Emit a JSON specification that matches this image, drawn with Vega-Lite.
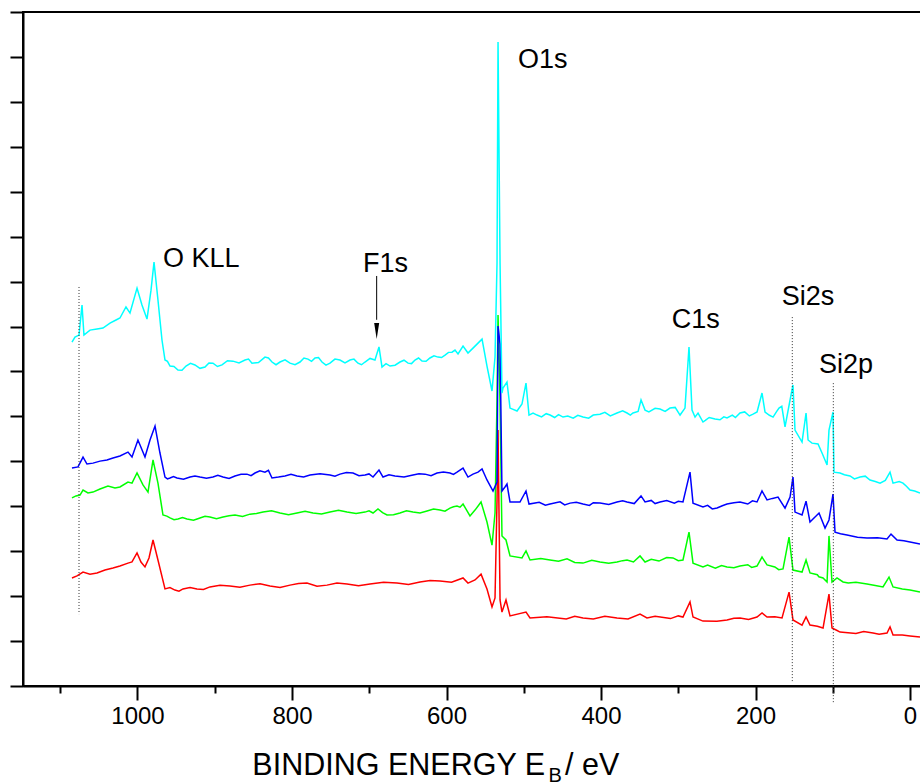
{
"$schema": "https://vega.github.io/schema/vega-lite/v6.json",
"width": 898, "height": 674,
"autosize": {"type": "none"},
"padding": {"left": 23, "top": 12, "right": 0, "bottom": 98},
"background": "white",
"config": {"view": {"stroke": "black", "strokeWidth": 2}, "axis": {"grid": false, "domainColor": "black", "tickColor": "black", "domainWidth": 2, "tickWidth": 2, "labelColor": "black", "labelFont": "Liberation Sans"}},
"datasets": {
"spectra": [
{"series":"D","energy":1084.8,"intensity":4.81},{"series":"D","energy":1078.3,"intensity":4.90},{"series":"D","energy":1070.5,"intensity":5.07},{"series":"D","energy":1061.5,"intensity":4.98},{"series":"D","energy":1052.4,"intensity":5.03},{"series":"D","energy":1042.1,"intensity":5.16},{"series":"D","energy":1031.7,"intensity":5.25},{"series":"D","energy":1022.7,"intensity":5.34},{"series":"D","energy":1012.3,"intensity":5.47},{"series":"D","energy":1007.1,"intensity":5.52},{"series":"D","energy":1000.6,"intensity":5.92},{"series":"D","energy":995.5,"intensity":5.52},{"series":"D","energy":990.3,"intensity":5.30},{"series":"D","energy":985.1,"intensity":5.70},{"series":"D","energy":979.9,"intensity":6.50},{"series":"D","energy":973.5,"intensity":5.61},{"series":"D","energy":964.4,"intensity":4.32},{"series":"D","energy":951.5,"intensity":4.27},{"series":"D","energy":941.1,"intensity":4.32},{"series":"D","energy":923.0,"intensity":4.32},{"series":"D","energy":906.2,"intensity":4.41},{"series":"D","energy":880.3,"intensity":4.45},{"series":"D","energy":854.4,"intensity":4.49},{"series":"D","energy":828.5,"intensity":4.45},{"series":"D","energy":802.6,"intensity":4.49},{"series":"D","energy":780.6,"intensity":4.58},{"series":"D","energy":754.7,"intensity":4.49},{"series":"D","energy":728.8,"intensity":4.54},{"series":"D","energy":699.0,"intensity":4.54},{"series":"D","energy":664.1,"intensity":4.58},{"series":"D","energy":634.3,"intensity":4.63},{"series":"D","energy":608.4,"intensity":4.67},{"series":"D","energy":578.6,"intensity":4.81},{"series":"D","energy":572.2,"intensity":4.58},{"series":"D","energy":563.1,"intensity":4.72},{"series":"D","energy":555.3,"intensity":4.98},{"series":"D","energy":547.6,"intensity":4.32},{"series":"D","energy":541.1,"intensity":3.52},{"series":"D","energy":537.2,"intensity":3.92},{"series":"D","energy":534.6,"intensity":8.28},{"series":"D","energy":533.3,"intensity":11.39},{"series":"D","energy":530.7,"intensity":3.83},{"series":"D","energy":528.2,"intensity":3.29},{"series":"D","energy":523.0,"intensity":3.83},{"series":"D","energy":517.8,"intensity":3.12},{"series":"D","energy":497.1,"intensity":3.29},{"series":"D","energy":491.9,"intensity":3.03},{"series":"D","energy":423.3,"intensity":3.03},{"series":"D","energy":379.3,"intensity":3.03},{"series":"D","energy":349.5,"intensity":3.20},{"series":"D","energy":340.5,"intensity":3.03},{"series":"D","energy":293.9,"intensity":3.07},{"series":"D","energy":284.8,"intensity":3.74},{"series":"D","energy":280.9,"intensity":3.07},{"series":"D","energy":268.0,"intensity":2.89},{"series":"D","energy":236.9,"intensity":2.94},{"series":"D","energy":220.1,"intensity":3.03},{"series":"D","energy":198.1,"intensity":3.07},{"series":"D","energy":191.6,"intensity":3.25},{"series":"D","energy":185.1,"intensity":3.07},{"series":"D","energy":165.7,"intensity":3.03},{"series":"D","energy":156.6,"intensity":4.18},{"series":"D","energy":151.5,"intensity":2.94},{"series":"D","energy":139.8,"intensity":2.71},{"series":"D","energy":134.6,"intensity":3.07},{"series":"D","energy":129.5,"intensity":2.71},{"series":"D","energy":112.6,"intensity":2.58},{"series":"D","energy":104.9,"intensity":4.09},{"series":"D","energy":101.0,"intensity":2.58},{"series":"D","energy":90.6,"intensity":2.40},{"series":"D","energy":47.9,"intensity":2.36},{"series":"D","energy":29.8,"intensity":2.36},{"series":"D","energy":25.9,"intensity":2.63},{"series":"D","energy":22.0,"intensity":2.27},{"series":"D","energy":0,"intensity":2.23},{"series":"D","energy":-12.9,"intensity":2.18},
{"series":"D","energy":958,"intensity":4.38},{"series":"D","energy":946.3,"intensity":4.22},{"series":"D","energy":932,"intensity":4.38},{"series":"D","energy":914.6,"intensity":4.30},{"series":"D","energy":893.2,"intensity":4.48},{"series":"D","energy":867.4,"intensity":4.40},{"series":"D","energy":841.4,"intensity":4.55},{"series":"D","energy":815.5,"intensity":4.38},{"series":"D","energy":791.6,"intensity":4.56},{"series":"D","energy":767.6,"intensity":4.44},{"series":"D","energy":741.8,"intensity":4.58},{"series":"D","energy":713.9,"intensity":4.46},{"series":"D","energy":681.5,"intensity":4.62},{"series":"D","energy":649.2,"intensity":4.52},{"series":"D","energy":621.3,"intensity":4.70},{"series":"D","energy":593.5,"intensity":4.62},{"series":"D","energy":470,"intensity":3.08},{"series":"D","energy":445,"intensity":2.98},{"series":"D","energy":434,"intensity":3.10},{"series":"D","energy":410,"intensity":2.98},{"series":"D","energy":395,"intensity":3.10},{"series":"D","energy":365,"intensity":2.98},{"series":"D","energy":330,"intensity":3.10},{"series":"D","energy":310,"intensity":3.00},{"series":"D","energy":300,"intensity":3.12},{"series":"D","energy":250,"intensity":2.88},{"series":"D","energy":228,"intensity":3.02},{"series":"D","energy":209,"intensity":2.96},{"series":"D","energy":175,"intensity":3.08},{"series":"D","energy":120,"intensity":2.66},{"series":"D","energy":95,"intensity":2.48},{"series":"D","energy":70,"intensity":2.34},{"series":"D","energy":60,"intensity":2.42},{"series":"D","energy":40,"intensity":2.30},{"series":"D","energy":10,"intensity":2.27},
{"series":"C","energy":1084.8,"intensity":8.37},{"series":"C","energy":1079.6,"intensity":8.46},{"series":"C","energy":1074.4,"intensity":8.50},{"series":"C","energy":1070.5,"intensity":8.72},{"series":"C","energy":1064.1,"intensity":8.59},{"series":"C","energy":1057.6,"intensity":8.63},{"series":"C","energy":1048.5,"intensity":8.77},{"series":"C","energy":1038.2,"intensity":8.90},{"series":"C","energy":1029.1,"intensity":8.81},{"series":"C","energy":1022.7,"intensity":8.86},{"series":"C","energy":1012.3,"intensity":9.08},{"series":"C","energy":1007.1,"intensity":9.03},{"series":"C","energy":1000.6,"intensity":9.48},{"series":"C","energy":992.9,"intensity":8.95},{"series":"C","energy":986.4,"intensity":8.63},{"series":"C","energy":979.9,"intensity":10.06},{"series":"C","energy":973.5,"intensity":9.03},{"series":"C","energy":967.0,"intensity":7.61},{"series":"C","energy":957.9,"intensity":7.48},{"series":"C","energy":947.6,"intensity":7.43},{"series":"C","energy":935.9,"intensity":7.43},{"series":"C","energy":919.1,"intensity":7.48},{"series":"C","energy":906.2,"intensity":7.52},{"series":"C","energy":889.3,"intensity":7.52},{"series":"C","energy":873.8,"intensity":7.61},{"series":"C","energy":854.4,"intensity":7.65},{"series":"C","energy":837.5,"intensity":7.74},{"series":"C","energy":815.5,"intensity":7.70},{"series":"C","energy":793.5,"intensity":7.70},{"series":"C","energy":772.8,"intensity":7.70},{"series":"C","energy":750.8,"intensity":7.74},{"series":"C","energy":728.8,"intensity":7.74},{"series":"C","energy":705.5,"intensity":7.74},{"series":"C","energy":695.1,"intensity":7.70},{"series":"C","energy":688.7,"intensity":7.88},{"series":"C","energy":677.0,"intensity":7.61},{"series":"C","energy":660.2,"intensity":7.70},{"series":"C","energy":643.4,"intensity":7.74},{"series":"C","energy":625.2,"intensity":7.79},{"series":"C","energy":608.4,"intensity":7.83},{"series":"C","energy":595.5,"intensity":7.92},{"series":"C","energy":586.4,"intensity":8.01},{"series":"C","energy":578.6,"intensity":8.10},{"series":"C","energy":569.6,"intensity":7.57},{"series":"C","energy":563.1,"intensity":7.83},{"series":"C","energy":555.3,"intensity":8.19},{"series":"C","energy":547.6,"intensity":7.30},{"series":"C","energy":541.1,"intensity":6.27},{"series":"C","energy":537.2,"intensity":7.70},{"series":"C","energy":534.6,"intensity":12.73},{"series":"C","energy":533.3,"intensity":16.51},{"series":"C","energy":530.7,"intensity":12.64},{"series":"C","energy":528.2,"intensity":6.68},{"series":"C","energy":523.0,"intensity":6.50},{"series":"C","energy":517.8,"intensity":5.79},{"series":"C","energy":502.3,"intensity":5.70},{"series":"C","energy":497.1,"intensity":6.01},{"series":"C","energy":491.9,"intensity":5.61},{"series":"C","energy":466.0,"intensity":5.61},{"series":"C","energy":423.3,"intensity":5.47},{"series":"C","energy":401.3,"intensity":5.52},{"series":"C","energy":379.3,"intensity":5.52},{"series":"C","energy":366.3,"intensity":5.61},{"series":"C","energy":349.5,"intensity":5.79},{"series":"C","energy":343.0,"intensity":5.52},{"series":"C","energy":306.8,"intensity":5.70},{"series":"C","energy":293.9,"intensity":5.61},{"series":"C","energy":286.1,"intensity":6.85},{"series":"C","energy":280.9,"intensity":5.47},{"series":"C","energy":268.0,"intensity":5.30},{"series":"C","energy":236.9,"intensity":5.30},{"series":"C","energy":220.1,"intensity":5.34},{"series":"C","energy":198.1,"intensity":5.34},{"series":"C","energy":191.6,"intensity":5.74},{"series":"C","energy":185.1,"intensity":5.39},{"series":"C","energy":164.4,"intensity":5.21},{"series":"C","energy":156.6,"intensity":6.63},{"series":"C","energy":151.5,"intensity":5.16},{"series":"C","energy":139.8,"intensity":5.07},{"series":"C","energy":134.6,"intensity":5.61},{"series":"C","energy":129.5,"intensity":5.03},{"series":"C","energy":112.6,"intensity":4.81},{"series":"C","energy":107.4,"intensity":4.63},{"series":"C","energy":104.9,"intensity":6.68},{"series":"C","energy":101.0,"intensity":4.63},{"series":"C","energy":94.5,"intensity":4.81},{"series":"C","energy":86.7,"intensity":4.63},{"series":"C","energy":55.7,"intensity":4.54},{"series":"C","energy":35.0,"intensity":4.41},{"series":"C","energy":27.2,"intensity":4.85},{"series":"C","energy":22.0,"intensity":4.41},{"series":"C","energy":0,"intensity":4.27},{"series":"C","energy":-12.9,"intensity":4.18},
{"series":"C","energy":962,"intensity":7.56},{"series":"C","energy":952.7,"intensity":7.40},{"series":"C","energy":941.7,"intensity":7.50},{"series":"C","energy":927.5,"intensity":7.38},{"series":"C","energy":912.6,"intensity":7.55},{"series":"C","energy":897.7,"intensity":7.45},{"series":"C","energy":881.5,"intensity":7.58},{"series":"C","energy":864,"intensity":7.55},{"series":"C","energy":846,"intensity":7.68},{"series":"C","energy":826.5,"intensity":7.80},{"series":"C","energy":804.5,"intensity":7.62},{"series":"C","energy":783.1,"intensity":7.78},{"series":"C","energy":761.8,"intensity":7.66},{"series":"C","energy":739.8,"intensity":7.82},{"series":"C","energy":717.1,"intensity":7.68},{"series":"C","energy":700.3,"intensity":7.80},{"series":"C","energy":682.8,"intensity":7.72},{"series":"C","energy":668.6,"intensity":7.62},{"series":"C","energy":651.8,"intensity":7.80},{"series":"C","energy":634.3,"intensity":7.70},{"series":"C","energy":616.8,"intensity":7.88},{"series":"C","energy":602,"intensity":7.78},{"series":"C","energy":591,"intensity":7.98},{"series":"C","energy":582.5,"intensity":7.96},{"series":"C","energy":478,"intensity":5.68},{"series":"C","energy":455,"intensity":5.55},{"series":"C","energy":444,"intensity":5.66},{"series":"C","energy":434,"intensity":5.50},{"series":"C","energy":412,"intensity":5.60},{"series":"C","energy":390,"intensity":5.46},{"series":"C","energy":372,"intensity":5.58},{"series":"C","energy":358,"intensity":5.52},{"series":"C","energy":335,"intensity":5.64},{"series":"C","energy":325,"intensity":5.56},{"series":"C","energy":315,"intensity":5.72},{"series":"C","energy":300,"intensity":5.58},{"series":"C","energy":262,"intensity":5.38},{"series":"C","energy":252,"intensity":5.24},{"series":"C","energy":244,"intensity":5.36},{"series":"C","energy":228,"intensity":5.26},{"series":"C","energy":210,"intensity":5.40},{"series":"C","energy":205,"intensity":5.28},{"series":"C","energy":175,"intensity":5.30},{"series":"C","energy":170,"intensity":5.18},{"series":"C","energy":120,"intensity":4.95},{"series":"C","energy":118,"intensity":4.86},{"series":"C","energy":80,"intensity":4.58},{"series":"C","energy":70,"intensity":4.62},{"series":"C","energy":45,"intensity":4.47},{"series":"C","energy":10,"intensity":4.32},
{"series":"B","energy":1084.8,"intensity":9.70},{"series":"B","energy":1077.0,"intensity":9.75},{"series":"B","energy":1070.5,"intensity":10.19},{"series":"B","energy":1065.4,"intensity":9.88},{"series":"B","energy":1057.6,"intensity":9.92},{"series":"B","energy":1048.5,"intensity":10.01},{"series":"B","energy":1039.5,"intensity":10.06},{"series":"B","energy":1031.7,"intensity":10.15},{"series":"B","energy":1022.7,"intensity":10.24},{"series":"B","energy":1012.3,"intensity":10.41},{"series":"B","energy":1007.1,"intensity":10.19},{"series":"B","energy":999.4,"intensity":10.95},{"series":"B","energy":990.3,"intensity":10.19},{"series":"B","energy":983.8,"intensity":10.95},{"series":"B","energy":977.3,"intensity":11.57},{"series":"B","energy":970.9,"intensity":10.37},{"series":"B","energy":964.4,"intensity":9.30},{"series":"B","energy":957.9,"intensity":9.26},{"series":"B","energy":948.9,"intensity":9.26},{"series":"B","energy":932.0,"intensity":9.30},{"series":"B","energy":919.1,"intensity":9.30},{"series":"B","energy":902.3,"intensity":9.30},{"series":"B","energy":889.3,"intensity":9.30},{"series":"B","energy":873.8,"intensity":9.35},{"series":"B","energy":858.3,"intensity":9.43},{"series":"B","energy":847.9,"intensity":9.48},{"series":"B","energy":835.0,"intensity":9.52},{"series":"B","energy":825.9,"intensity":9.26},{"series":"B","energy":809.1,"intensity":9.35},{"series":"B","energy":793.5,"intensity":9.35},{"series":"B","energy":776.7,"intensity":9.39},{"series":"B","energy":750.8,"intensity":9.39},{"series":"B","energy":737.9,"intensity":9.43},{"series":"B","energy":721.0,"intensity":9.48},{"series":"B","energy":705.5,"intensity":9.39},{"series":"B","energy":695.1,"intensity":9.30},{"series":"B","energy":687.4,"intensity":9.61},{"series":"B","energy":682.2,"intensity":9.30},{"series":"B","energy":666.7,"intensity":9.35},{"series":"B","energy":643.4,"intensity":9.39},{"series":"B","energy":627.8,"intensity":9.43},{"series":"B","energy":612.3,"intensity":9.48},{"series":"B","energy":595.5,"intensity":9.48},{"series":"B","energy":586.4,"intensity":9.52},{"series":"B","energy":578.6,"intensity":9.70},{"series":"B","energy":572.2,"intensity":9.30},{"series":"B","energy":565.7,"intensity":9.43},{"series":"B","energy":559.2,"intensity":9.52},{"series":"B","energy":554.0,"intensity":9.66},{"series":"B","energy":547.6,"intensity":9.17},{"series":"B","energy":539.8,"intensity":8.68},{"series":"B","energy":534.6,"intensity":9.08},{"series":"B","energy":533.3,"intensity":16.02},{"series":"B","energy":530.7,"intensity":15.22},{"series":"B","energy":528.2,"intensity":8.68},{"series":"B","energy":524.3,"intensity":8.86},{"series":"B","energy":521.7,"intensity":8.99},{"series":"B","energy":517.8,"intensity":8.19},{"series":"B","energy":504.9,"intensity":8.19},{"series":"B","energy":497.1,"intensity":8.68},{"series":"B","energy":493.2,"intensity":8.10},{"series":"B","energy":466.0,"intensity":8.10},{"series":"B","energy":440.1,"intensity":8.14},{"series":"B","energy":423.3,"intensity":8.10},{"series":"B","energy":401.3,"intensity":8.14},{"series":"B","energy":379.3,"intensity":8.19},{"series":"B","energy":366.3,"intensity":8.19},{"series":"B","energy":348.2,"intensity":8.46},{"series":"B","energy":343.0,"intensity":8.19},{"series":"B","energy":323.6,"intensity":8.19},{"series":"B","energy":293.9,"intensity":8.19},{"series":"B","energy":284.8,"intensity":9.52},{"series":"B","energy":280.9,"intensity":8.14},{"series":"B","energy":268.0,"intensity":7.97},{"series":"B","energy":249.8,"intensity":7.92},{"series":"B","energy":236.9,"intensity":8.10},{"series":"B","energy":220.1,"intensity":8.19},{"series":"B","energy":198.1,"intensity":8.19},{"series":"B","energy":191.6,"intensity":8.68},{"series":"B","energy":185.1,"intensity":8.28},{"series":"B","energy":170.9,"intensity":8.41},{"series":"B","energy":161.8,"intensity":7.92},{"series":"B","energy":155.3,"intensity":8.41},{"series":"B","energy":151.5,"intensity":9.30},{"series":"B","energy":148.9,"intensity":7.74},{"series":"B","energy":139.8,"intensity":7.61},{"series":"B","energy":134.6,"intensity":8.23},{"series":"B","energy":129.5,"intensity":7.30},{"series":"B","energy":117.8,"intensity":7.70},{"series":"B","energy":110.0,"intensity":7.03},{"series":"B","energy":104.9,"intensity":7.39},{"series":"B","energy":99.7,"intensity":8.54},{"series":"B","energy":97.1,"intensity":6.85},{"series":"B","energy":81.6,"intensity":6.72},{"series":"B","energy":55.7,"intensity":6.59},{"series":"B","energy":29.8,"intensity":6.54},{"series":"B","energy":24.6,"intensity":6.76},{"series":"B","energy":16.8,"intensity":6.50},{"series":"B","energy":0,"intensity":6.41},{"series":"B","energy":-12.9,"intensity":6.32},
{"series":"B","energy":961.2,"intensity":9.22},{"series":"B","energy":953.4,"intensity":9.32},{"series":"B","energy":940.5,"intensity":9.20},{"series":"B","energy":925.6,"intensity":9.35},{"series":"B","energy":910.7,"intensity":9.25},{"series":"B","energy":896,"intensity":9.38},{"series":"B","energy":881.5,"intensity":9.24},{"series":"B","energy":866,"intensity":9.42},{"series":"B","energy":853,"intensity":9.36},{"series":"B","energy":841.5,"intensity":9.58},{"series":"B","energy":830.5,"intensity":9.60},{"series":"B","energy":817.5,"intensity":9.30},{"series":"B","energy":801.3,"intensity":9.42},{"series":"B","energy":785,"intensity":9.30},{"series":"B","energy":763.7,"intensity":9.45},{"series":"B","energy":744.4,"intensity":9.34},{"series":"B","energy":729.5,"intensity":9.50},{"series":"B","energy":713.3,"intensity":9.36},{"series":"B","energy":700.3,"intensity":9.44},{"series":"B","energy":674.5,"intensity":9.40},{"series":"B","energy":655,"intensity":9.30},{"series":"B","energy":635.6,"intensity":9.45},{"series":"B","energy":620,"intensity":9.36},{"series":"B","energy":604,"intensity":9.52},{"series":"B","energy":591,"intensity":9.42},{"series":"B","energy":480,"intensity":8.18},{"series":"B","energy":472,"intensity":8.05},{"series":"B","energy":453,"intensity":8.20},{"series":"B","energy":447,"intensity":8.06},{"series":"B","energy":432,"intensity":8.18},{"series":"B","energy":415,"intensity":8.04},{"series":"B","energy":410,"intensity":8.16},{"series":"B","energy":390,"intensity":8.08},{"series":"B","energy":372,"intensity":8.24},{"series":"B","energy":357,"intensity":8.12},{"series":"B","energy":335,"intensity":8.26},{"series":"B","energy":330,"intensity":8.12},{"series":"B","energy":315,"intensity":8.26},{"series":"B","energy":305,"intensity":8.14},{"series":"B","energy":300,"intensity":8.22},{"series":"B","energy":262,"intensity":8.04},{"series":"B","energy":256,"intensity":7.88},{"series":"B","energy":243,"intensity":8.02},{"series":"B","energy":228,"intensity":8.16},{"series":"B","energy":210,"intensity":8.10},{"series":"B","energy":204,"intensity":8.24},{"series":"B","energy":178,"intensity":8.35},{"series":"B","energy":90,"intensity":6.78},{"series":"B","energy":68,"intensity":6.62},{"series":"B","energy":42,"intensity":6.60},{"series":"B","energy":8,"intensity":6.46},
{"series":"A","energy":1084.8,"intensity":15.31},{"series":"A","energy":1080.9,"intensity":15.53},{"series":"A","energy":1075.7,"intensity":15.62},{"series":"A","energy":1071.8,"intensity":16.96},{"series":"A","energy":1069.3,"intensity":15.62},{"series":"A","energy":1061.5,"intensity":15.84},{"series":"A","energy":1052.4,"intensity":15.89},{"series":"A","energy":1044.7,"intensity":15.93},{"series":"A","energy":1035.6,"intensity":16.15},{"series":"A","energy":1027.8,"intensity":16.29},{"series":"A","energy":1022.7,"intensity":16.38},{"series":"A","energy":1014.9,"intensity":16.87},{"series":"A","energy":1009.7,"intensity":16.60},{"series":"A","energy":1000.6,"intensity":17.71},{"series":"A","energy":994.2,"intensity":16.96},{"series":"A","energy":987.7,"intensity":16.33},{"series":"A","energy":982.5,"intensity":17.62},{"series":"A","energy":978.6,"intensity":18.87},{"series":"A","energy":973.5,"intensity":17.18},{"series":"A","energy":968.3,"intensity":15.40},{"series":"A","energy":964.4,"intensity":14.51},{"series":"A","energy":957.9,"intensity":14.24},{"series":"A","energy":947.6,"intensity":14.06},{"series":"A","energy":937.2,"intensity":14.24},{"series":"A","energy":925.6,"intensity":14.29},{"series":"A","energy":912.6,"intensity":14.20},{"series":"A","energy":902.3,"intensity":14.37},{"series":"A","energy":890.6,"intensity":14.29},{"series":"A","energy":876.4,"intensity":14.46},{"series":"A","energy":860.8,"intensity":14.51},{"series":"A","energy":851.8,"intensity":14.37},{"series":"A","energy":835.0,"intensity":14.64},{"series":"A","energy":825.9,"intensity":14.42},{"series":"A","energy":815.5,"intensity":14.42},{"series":"A","energy":802.6,"intensity":14.37},{"series":"A","energy":789.6,"intensity":14.42},{"series":"A","energy":779.3,"intensity":14.55},{"series":"A","energy":770.2,"intensity":14.60},{"series":"A","energy":761.2,"intensity":14.42},{"series":"A","energy":750.8,"intensity":14.37},{"series":"A","energy":737.9,"intensity":14.51},{"series":"A","energy":724.9,"intensity":14.51},{"series":"A","energy":714.6,"intensity":14.37},{"series":"A","energy":705.5,"intensity":14.42},{"series":"A","energy":692.6,"intensity":14.51},{"series":"A","energy":687.4,"intensity":15.09},{"series":"A","energy":683.5,"intensity":14.20},{"series":"A","energy":673.1,"intensity":14.24},{"series":"A","energy":660.2,"intensity":14.42},{"series":"A","energy":649.8,"intensity":14.37},{"series":"A","energy":640.8,"intensity":14.51},{"series":"A","energy":631.7,"intensity":14.46},{"series":"A","energy":621.4,"intensity":14.60},{"series":"A","energy":611.0,"intensity":14.64},{"series":"A","energy":601.9,"intensity":14.73},{"series":"A","energy":592.9,"intensity":14.86},{"series":"A","energy":589.0,"intensity":14.95},{"series":"A","energy":585.1,"intensity":14.78},{"series":"A","energy":578.6,"intensity":15.13},{"series":"A","energy":572.2,"intensity":14.82},{"series":"A","energy":565.7,"intensity":15.04},{"series":"A","energy":559.2,"intensity":15.26},{"series":"A","energy":554.0,"intensity":15.44},{"series":"A","energy":547.6,"intensity":14.24},{"series":"A","energy":541.1,"intensity":13.13},{"series":"A","energy":537.2,"intensity":14.64},{"series":"A","energy":534.6,"intensity":18.83},{"series":"A","energy":533.3,"intensity":28.66},{"series":"A","energy":530.7,"intensity":18.83},{"series":"A","energy":528.2,"intensity":13.04},{"series":"A","energy":526.9,"intensity":13.26},{"series":"A","energy":521.7,"intensity":13.53},{"series":"A","energy":517.8,"intensity":12.37},{"series":"A","energy":508.7,"intensity":12.24},{"series":"A","energy":502.3,"intensity":12.55},{"series":"A","energy":497.1,"intensity":13.48},{"series":"A","energy":493.2,"intensity":12.06},{"series":"A","energy":482.8,"intensity":12.06},{"series":"A","energy":466.0,"intensity":12.06},{"series":"A","energy":449.2,"intensity":11.97},{"series":"A","energy":423.3,"intensity":11.97},{"series":"A","energy":401.3,"intensity":12.10},{"series":"A","energy":379.3,"intensity":12.15},{"series":"A","energy":366.3,"intensity":12.15},{"series":"A","energy":358.6,"intensity":12.15},{"series":"A","energy":348.2,"intensity":12.73},{"series":"A","energy":343.0,"intensity":12.28},{"series":"A","energy":323.6,"intensity":12.33},{"series":"A","energy":310.7,"intensity":12.37},{"series":"A","energy":297.7,"intensity":12.06},{"series":"A","energy":291.3,"intensity":12.37},{"series":"A","energy":286.1,"intensity":15.09},{"series":"A","energy":282.2,"intensity":12.28},{"series":"A","energy":278.3,"intensity":11.97},{"series":"A","energy":274.4,"intensity":12.15},{"series":"A","energy":268.0,"intensity":11.75},{"series":"A","energy":252.4,"intensity":11.88},{"series":"A","energy":236.9,"intensity":11.93},{"series":"A","energy":220.1,"intensity":12.15},{"series":"A","energy":203.2,"intensity":12.10},{"series":"A","energy":191.6,"intensity":13.04},{"series":"A","energy":187.7,"intensity":12.19},{"series":"A","energy":177.3,"intensity":11.97},{"series":"A","energy":169.6,"intensity":12.37},{"series":"A","energy":161.8,"intensity":11.53},{"series":"A","energy":155.3,"intensity":12.73},{"series":"A","energy":151.5,"intensity":13.40},{"series":"A","energy":148.9,"intensity":11.39},{"series":"A","energy":139.8,"intensity":10.86},{"series":"A","energy":134.6,"intensity":12.15},{"series":"A","energy":132.0,"intensity":10.95},{"series":"A","energy":126.9,"intensity":10.81},{"series":"A","energy":119.1,"intensity":10.77},{"series":"A","energy":113.9,"intensity":10.37},{"series":"A","energy":107.4,"intensity":9.84},{"series":"A","energy":104.9,"intensity":11.39},{"series":"A","energy":99.7,"intensity":12.19},{"series":"A","energy":98.4,"intensity":9.52},{"series":"A","energy":90.6,"intensity":9.48},{"series":"A","energy":77.7,"intensity":9.35},{"series":"A","energy":64.7,"intensity":9.30},{"series":"A","energy":51.8,"intensity":9.17},{"series":"A","energy":38.8,"intensity":9.03},{"series":"A","energy":25.9,"intensity":9.52},{"series":"A","energy":22.0,"intensity":9.03},{"series":"A","energy":9.1,"intensity":9.03},{"series":"A","energy":0,"intensity":8.72},{"series":"A","energy":-12.9,"intensity":8.59},
{"series":"A","energy":961.2,"intensity":14.45},{"series":"A","energy":952.8,"intensity":14.22},{"series":"A","energy":942.4,"intensity":14.05},{"series":"A","energy":931.4,"intensity":14.36},{"series":"A","energy":919.1,"intensity":14.14},{"series":"A","energy":907.5,"intensity":14.38},{"series":"A","energy":896.5,"intensity":14.22},{"series":"A","energy":883.5,"intensity":14.48},{"series":"A","energy":868.6,"intensity":14.38},{"series":"A","energy":856.3,"intensity":14.55},{"series":"A","energy":843.4,"intensity":14.40},{"series":"A","energy":830.5,"intensity":14.60},{"series":"A","energy":820.7,"intensity":14.30},{"series":"A","energy":809.0,"intensity":14.52},{"series":"A","energy":796.1,"intensity":14.30},{"series":"A","energy":784.5,"intensity":14.60},{"series":"A","energy":774.7,"intensity":14.45},{"series":"A","energy":765.7,"intensity":14.62},{"series":"A","energy":756.0,"intensity":14.28},{"series":"A","energy":744.4,"intensity":14.55},{"series":"A","energy":731.4,"intensity":14.38},{"series":"A","energy":719.8,"intensity":14.55},{"series":"A","energy":710.0,"intensity":14.30},{"series":"A","energy":699.0,"intensity":14.58},{"series":"A","energy":678.3,"intensity":14.35},{"series":"A","energy":666.6,"intensity":14.28},{"series":"A","energy":655.0,"intensity":14.50},{"series":"A","energy":645.3,"intensity":14.35},{"series":"A","energy":636.2,"intensity":14.60},{"series":"A","energy":626.5,"intensity":14.45},{"series":"A","energy":616.2,"intensity":14.70},{"series":"A","energy":606.4,"intensity":14.62},{"series":"A","energy":597.4,"intensity":14.85},{"series":"A","energy":488,"intensity":12.15},{"series":"A","energy":477,"intensity":11.98},{"series":"A","energy":471,"intensity":12.12},{"series":"A","energy":460,"intensity":11.95},{"series":"A","energy":455,"intensity":12.08},{"series":"A","energy":443,"intensity":12.02},{"series":"A","energy":436,"intensity":11.92},{"series":"A","energy":430,"intensity":12.05},{"series":"A","energy":416,"intensity":11.92},{"series":"A","energy":410,"intensity":12.06},{"series":"A","energy":395,"intensity":12.18},{"series":"A","energy":388,"intensity":12.02},{"series":"A","energy":372,"intensity":12.25},{"series":"A","energy":362,"intensity":12.06},{"series":"A","energy":352,"intensity":12.22},{"series":"A","energy":338,"intensity":12.20},{"series":"A","energy":330,"intensity":12.36},{"series":"A","energy":317,"intensity":12.22},{"series":"A","energy":304,"intensity":12.40},{"series":"A","energy":265,"intensity":11.82},{"series":"A","energy":260,"intensity":11.95},{"series":"A","energy":246,"intensity":11.85},{"series":"A","energy":241,"intensity":11.98},{"series":"A","energy":230,"intensity":12.06},{"series":"A","energy":226,"intensity":11.95},{"series":"A","energy":214,"intensity":12.20},{"series":"A","energy":208,"intensity":12.02},{"series":"A","energy":198,"intensity":12.20},{"series":"A","energy":182,"intensity":12.05},{"series":"A","energy":173,"intensity":12.20},{"series":"A","energy":166,"intensity":12.45},{"series":"A","energy":85,"intensity":9.40},{"series":"A","energy":72,"intensity":9.22},{"series":"A","energy":58,"intensity":9.34},{"series":"A","energy":45,"intensity":9.10},{"series":"A","energy":32,"intensity":9.15},{"series":"A","energy":14,"intensity":9.10},{"series":"A","energy":5,"intensity":8.90},{"series":"A","energy":-6,"intensity":8.68}
],
"guides": [
{"energy":1075.7,"intensity":17.76,"intensity2":3.2},
{"energy":152.4,"intensity":16.42,"intensity2":0.18},
{"energy":99.3,"intensity":13.48,"intensity2":-0.76}
],
"arrow": [{"energy":690.4,"intensity":18.25,"intensity2":16.3}],
"arrowhead": [{"energy":690.4,"intensity":15.8}],
"peaks": [
{"label":"O KLL","energy":967.0,"intensity":18.65},
{"label":"F1s","energy":708.1,"intensity":18.42},
{"label":"O1s","energy":507.4,"intensity":27.5},
{"label":"C1s","energy":308.5,"intensity":15.93},
{"label":"Si2s","energy":166.1,"intensity":16.96},
{"label":"Si2p","energy":117.8,"intensity":13.93}
],
"titleMain": [{"label":"BINDING ENERGY E","energy":472.5,"intensity":-3.96}],
"titleSub": [{"label":"B","energy":468.0,"intensity":-4.27}],
"titleTail": [{"label":"/ eV","energy":446.5,"intensity":-3.96}]
},
"layer": [
{"data":{"name":"spectra"},"mark":{"type":"line","strokeWidth":1.5},
 "encoding":{
  "x":{"field":"energy","type":"quantitative","title":null,"scale":{"domain":[-14.2,1148.2],"reverse":true,"nice":false,"zero":false},
   "axis":{"values":[0,100,200,300,400,500,600,700,800,900,1000,1100],"format":"d","tickSize":{"condition":{"test":"datum.value % 200 === 0","value":14},"value":7},"labelExpr":"datum.value % 200 === 0 ? datum.label : ''","labelFontSize":24,"labelPadding":4,"labelOverlap":false,"labelFlush":false,"title":null}},
  "y":{"field":"intensity","type":"quantitative","title":null,"scale":{"domain":[0,30],"nice":false,"zero":false},
   "axis":{"values":[0,1,2,3,4,5,6,7,8,9,10,11,12,13,14,15,16,17,18,19,20,21,22,23,24,25,26,27,28,29,30],"labels":false,"tickSize":13,"title":null}},
  "color":{"field":"series","type":"nominal","scale":{"domain":["A","B","C","D"],"range":["#00FFFF","#0000FF","#00FF00","#FF0000"]},"legend":null}}},
{"data":{"name":"guides"},"mark":{"type":"rule","color":"#333333","strokeWidth":1,"strokeDash":[1,2]},
 "encoding":{"x":{"field":"energy","type":"quantitative","title":null},"y":{"field":"intensity","type":"quantitative","title":null},"y2":{"field":"intensity2"}}},
{"data":{"name":"arrow"},"mark":{"type":"rule","color":"black","strokeWidth":1},
 "encoding":{"x":{"field":"energy","type":"quantitative","title":null},"y":{"field":"intensity","type":"quantitative","title":null},"y2":{"field":"intensity2"}}},
{"data":{"name":"arrowhead"},"mark":{"type":"point","shape":"M-0.3125,-1L0.3125,-1L0,1Z","size":256,"filled":true,"color":"black","opacity":1,"strokeWidth":0},
 "encoding":{"x":{"field":"energy","type":"quantitative","title":null},"y":{"field":"intensity","type":"quantitative","title":null}}},
{"data":{"name":"peaks"},"mark":{"type":"text","font":"Liberation Sans","fontSize":27,"align":"left","baseline":"alphabetic","color":"black"},
 "encoding":{"x":{"field":"energy","type":"quantitative","title":null},"y":{"field":"intensity","type":"quantitative","title":null},"text":{"field":"label"}}},
{"data":{"name":"titleMain"},"mark":{"type":"text","font":"Liberation Sans","fontSize":30.5,"align":"right","baseline":"alphabetic","color":"black"},
 "encoding":{"x":{"field":"energy","type":"quantitative","title":null},"y":{"field":"intensity","type":"quantitative","title":null},"text":{"field":"label"}}},
{"data":{"name":"titleSub"},"mark":{"type":"text","font":"Liberation Sans","fontSize":20,"align":"left","baseline":"alphabetic","color":"black"},
 "encoding":{"x":{"field":"energy","type":"quantitative","title":null},"y":{"field":"intensity","type":"quantitative","title":null},"text":{"field":"label"}}},
{"data":{"name":"titleTail"},"mark":{"type":"text","font":"Liberation Sans","fontSize":30.5,"align":"left","baseline":"alphabetic","color":"black"},
 "encoding":{"x":{"field":"energy","type":"quantitative","title":null},"y":{"field":"intensity","type":"quantitative","title":null},"text":{"field":"label"}}}
]
}
